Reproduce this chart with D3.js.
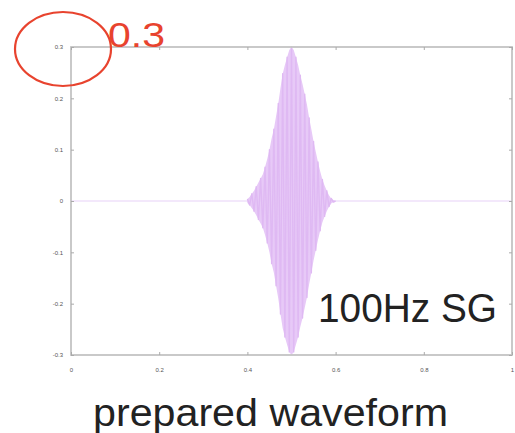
<!DOCTYPE html>
<html>
<head>
<meta charset="utf-8">
<script src="https://cdn.jsdelivr.net/npm/d3@7"></script>
<style>
  body { margin: 0; background: #fff; }
  svg { display: block; }
</style>
</head>
<body>
<svg id="myCanvas" width="515" height="433"></svg>
<script>
const width = 515;
const height = 433;

// plot box in pixels
const margin = { left: 71, right: 3, top: 47, bottom: 78 };

const xTicks = [0, 0.2, 0.4, 0.6, 0.8, 1];
const xTickLabels = ["0", "0.2", "0.4", "0.6", "0.8", "1"];
const yTicks = [-0.3, -0.2, -0.1, 0, 0.1, 0.2, 0.3];
const yTickLabels = ["-0.3", "-0.2", "-0.1", "0", "0.1", "0.2", "0.3"];

// sine-gaussian burst: alternating peak values (every 5 ms)
const burstTime = [0.400, 0.405, 0.410, 0.415, 0.420, 0.425, 0.430, 0.435, 0.440, 0.445,
                   0.450, 0.455, 0.460, 0.465, 0.470, 0.475, 0.480, 0.485, 0.490, 0.495,
                   0.500, 0.505, 0.510, 0.515, 0.520, 0.525, 0.530, 0.535, 0.540, 0.545,
                   0.550, 0.555, 0.560, 0.565, 0.570, 0.575, 0.580, 0.585, 0.590, 0.595, 0.600];
const burstValue = [0.004, -0.008, 0.014, -0.02, 0.028, -0.036, 0.044, -0.052, 0.066, -0.082,
                    0.100, -0.122, 0.140, -0.165, 0.190, -0.220, 0.248, -0.265, 0.280, -0.294,
                    0.300, -0.294, 0.280, -0.265, 0.245, -0.228, 0.208, -0.188, 0.162, -0.140,
                    0.116, -0.096, 0.076, -0.058, 0.042, -0.030, 0.020, -0.011, 0.005, -0.002, 0];
// flat parts of the signal
const leadTime = [0, 0.400];
const tailTime = [0.600, 1];

const svg = d3.select("#myCanvas");

const xScale = d3.scaleLinear()
  .domain([0, 1])
  .range([margin.left, width - margin.right]);

const yScale = d3.scaleLinear()
  .domain([-0.3, 0.3])
  .range([height - margin.bottom, margin.top]);

const burst = burstTime.map((t, i) => [t, burstValue[i]]);

// flat baseline
const line = d3.line().x(d => xScale(d[0])).y(d => yScale(d[1]));
svg.append("path")
  .datum(leadTime.map(t => [t, 0]).concat(tailTime.map(t => [t, 0])))
  .attr("fill", "none")
  .attr("stroke", "#e8d2f8")
  .attr("stroke-width", 1.2)
  .attr("d", line);

// dense oscillation reads as a filled envelope
svg.append("path")
  .datum(burst)
  .attr("fill", "#e7c9f7")
  .attr("d", d3.area()
    .x(d => xScale(d[0]))
    .y0(d => yScale(-Math.abs(d[1])))
    .y1(d => yScale(Math.abs(d[1]))));

svg.append("path")
  .datum(burst)
  .attr("fill", "none")
  .attr("stroke", "#dfb9f3")
  .attr("stroke-width", 1.4)
  .attr("stroke-linejoin", "round")
  .attr("d", line);

// frame
const frameColor = "#c4c4c4";
svg.append("rect")
  .attr("x", xScale(0))
  .attr("y", yScale(0.3))
  .attr("width", xScale(1) - xScale(0))
  .attr("height", yScale(-0.3) - yScale(0.3))
  .attr("fill", "none")
  .attr("stroke", frameColor)
  .attr("stroke-width", 1.8);

function styleAxis(g) {
  g.select(".domain").remove();
  g.selectAll(".tick line").attr("stroke", "#aaa");
  g.selectAll(".tick text")
    .attr("fill", "#555")
    .style("font-family", "Liberation Sans, Arial, sans-serif")
    .style("font-size", "6px");
}

// axes, ticks point inward
svg.append("g")
  .attr("transform", `translate(0, ${yScale(-0.3)})`)
  .call(d3.axisBottom(xScale).tickValues(xTicks)
    .tickFormat((d, i) => xTickLabels[i]).tickSizeInner(-3).tickSizeOuter(0).tickPadding(13))
  .call(styleAxis);

svg.append("g")
  .attr("transform", `translate(0, ${yScale(0.3)})`)
  .call(d3.axisTop(xScale).tickValues(xTicks)
    .tickFormat("").tickSizeInner(-3).tickSizeOuter(0))
  .call(styleAxis);

svg.append("g")
  .attr("transform", `translate(${xScale(0)}, 0)`)
  .call(d3.axisLeft(yScale).tickValues(yTicks)
    .tickFormat((d, i) => yTickLabels[i]).tickSizeInner(-3).tickSizeOuter(0).tickPadding(8))
  .call(styleAxis);

svg.append("g")
  .attr("transform", `translate(${xScale(1)}, 0)`)
  .call(d3.axisRight(yScale).tickValues(yTicks)
    .tickFormat("").tickSizeInner(-3).tickSizeOuter(0))
  .call(styleAxis);

// annotations
svg.append("ellipse")
  .attr("cx", 63)
  .attr("cy", 49)
  .attr("rx", 48)
  .attr("ry", 37)
  .attr("fill", "none")
  .attr("stroke", "#e8432e")
  .attr("stroke-width", 2.2);

svg.append("text")
  .attr("x", 108)
  .attr("y", 47)
  .attr("fill", "#e8432e")
  .attr("textLength", 57)
  .attr("lengthAdjust", "spacingAndGlyphs")
  .style("font-family", "Liberation Sans, Arial, sans-serif")
  .style("font-size", "35px")
  .text("0.3");

svg.append("text")
  .attr("x", 318)
  .attr("y", 322)
  .attr("fill", "#222")
  .attr("textLength", 179)
  .attr("lengthAdjust", "spacingAndGlyphs")
  .style("font-family", "Liberation Sans, Arial, sans-serif")
  .style("font-size", "40px")
  .text("100Hz SG");

svg.append("text")
  .attr("x", 93)
  .attr("y", 426)
  .attr("fill", "#222")
  .attr("textLength", 355)
  .attr("lengthAdjust", "spacingAndGlyphs")
  .style("font-family", "Liberation Sans, Arial, sans-serif")
  .style("font-size", "38px")
  .text("prepared waveform");
</script>
</body>
</html>
